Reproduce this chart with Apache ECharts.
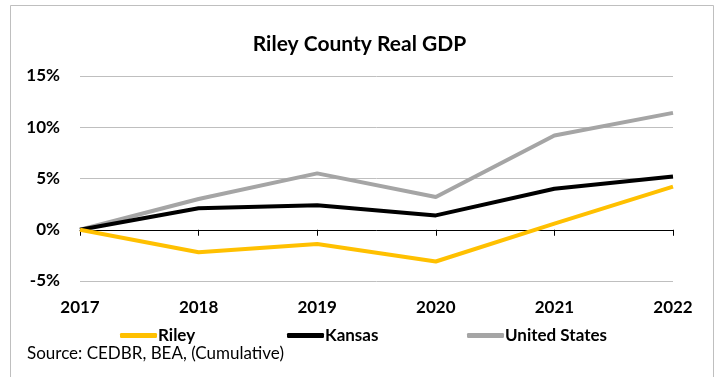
<!DOCTYPE html>
<html><head><meta charset="utf-8">
<script src="https://cdn.jsdelivr.net/npm/echarts@6/dist/echarts.min.js"></script>
<style>html,body{margin:0;padding:0;background:#fff}#c{width:719px;height:377px}</style>
</head><body><div id="c"></div>
<script>
const years = ['2017','2018','2019','2020','2021','2022'];
const riley = [0, -2.2, -1.4, -3.1, 0.6, 4.2];
const kansas = [0, 2.1, 2.4, 1.4, 4.0, 5.2];
const us = [0, 3.0, 5.5, 3.2, 9.2, 11.4];
const yTicks = [-5, 0, 5, 10, 15];
const names = ['Riley', 'Kansas', 'United States'];

const FONT = 'Lato, "Open Sans", sans-serif';
const chart = echarts.init(document.getElementById('c'));
const mk = (name, data, color) => ({
  name, type: 'line', data, xAxisIndex: 0, yAxisIndex: 0,
  symbol: 'none', lineStyle: { color, width: 4 }, itemStyle: { color },
  z: name === 'Riley' ? 5 : name === 'Kansas' ? 4 : 3
});
const legendAt = (name, left) => ({
  left, top: 322, itemWidth: 37, itemHeight: 5, icon: 'roundRect',
  textStyle: { fontFamily: FONT, fontSize: 17, fontWeight: 'bold', color: '#000', padding: [0,0,0,-4] },
  data: [name]
});
chart.setOption({
  animation: false,
  title: { text: 'Riley County Real GDP', left: 'center', top: 29,
    textStyle: { fontFamily: FONT, fontSize: 21, fontWeight: 'bold', color: '#000' } },
  grid: { left: 80, right: 46, top: 76, bottom: 96 },
  legend: [legendAt(names[0], 115), legendAt(names[1], 282), legendAt(names[2], 462)],
  xAxis: [
    { type: 'category', data: years, boundaryGap: false, position: 'bottom',
      axisLine: { show: false, onZero: false }, axisTick: { show: false },
      axisLabel: { margin: 18, fontFamily: FONT, fontSize: 17, fontWeight: 'bold', color: '#000' } },
    { type: 'category', data: years, boundaryGap: false, position: 'bottom',
      axisLine: { show: true, onZero: true, lineStyle: { color: '#000', width: 1 } },
      axisTick: { show: true, alignWithLabel: true, length: 6, lineStyle: { color: '#000' } },
      axisLabel: { show: false } }
  ],
  yAxis: {
    type: 'value', min: -5, max: 15, interval: 5,
    axisLine: { show: false }, axisTick: { show: false },
    splitLine: { lineStyle: { color: '#bfbfbf', width: 1 } },
    axisLabel: { margin: 20, formatter: v => yTicks.includes(v) ? v + '%' : '',
      fontFamily: FONT, fontSize: 17, fontWeight: 'bold', color: '#000' }
  },
  series: [mk(names[0], riley, '#FFC000'), mk(names[1], kansas, '#000000'), mk(names[2], us, '#A5A5A5')],
  graphic: [
    { type: 'rect', shape: { x: 10.5, y: 5.5, width: 703, height: 380 },
      style: { fill: 'none', stroke: '#bfbfbf', lineWidth: 1 }, silent: true },
    { type: 'text', left: 27, top: 345,
      style: { text: 'Source: CEDBR, BEA, (Cumulative)', fontFamily: FONT, fontSize: 17, fill: '#000' } }
  ]
});
</script></body></html>
